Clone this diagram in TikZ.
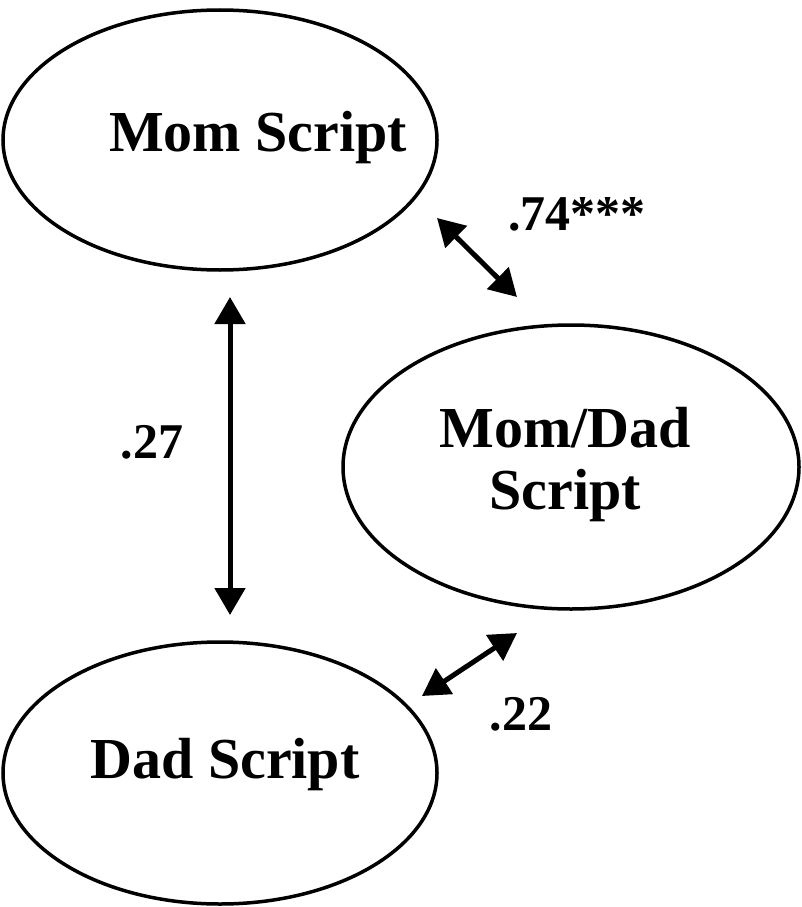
\documentclass[tikz,border=0pt]{standalone}
\usepackage{fontspec}
\setmainfont{Liberation Serif}
\usetikzlibrary{arrows.meta}
\begin{document}
\begin{tikzpicture}[x=1pt,y=-1pt,
  title/.style={font=\fontsize{58}{62}\selectfont\bfseries, align=center},
  coef/.style={font=\fontsize{50}{54}\selectfont\bfseries},
  dbl/.style={line width=5pt, {Triangle[length=27pt,width=30pt]}-{Triangle[length=27pt,width=30pt]}}]
\useasboundingbox (0,0) rectangle (802,907);
\draw[line width=3.5pt] (220,140) ellipse [x radius=217, y radius=130];
\draw[line width=3.5pt] (571,467) ellipse [x radius=228, y radius=142];
\draw[line width=3.5pt] (220,773) ellipse [x radius=217, y radius=131];
\node[title] (mom) at (258,138) {Mom Script};
\node[title] (momdad) at (565,465) {Mom/Dad\\[0pt]Script};
\node[title] (dad) at (225,765) {Dad Script};
\coordinate (a1) at (230,297);
\coordinate (a2) at (230,615);
\coordinate (b1) at (437,218);
\coordinate (b2) at (517,297);
\coordinate (c1) at (517,633);
\coordinate (c2) at (422,696);
\draw[dbl] (a1) -- (a2);
\draw[dbl] (b1) -- (b2);
\draw[dbl] (c1) -- (c2);
\node[coef] (l1) at (577,214) {.74***};
\node[coef] (l2) at (152,442) {.27};
\node[coef] (l3) at (521,714) {.22};
\end{tikzpicture}
\end{document}
